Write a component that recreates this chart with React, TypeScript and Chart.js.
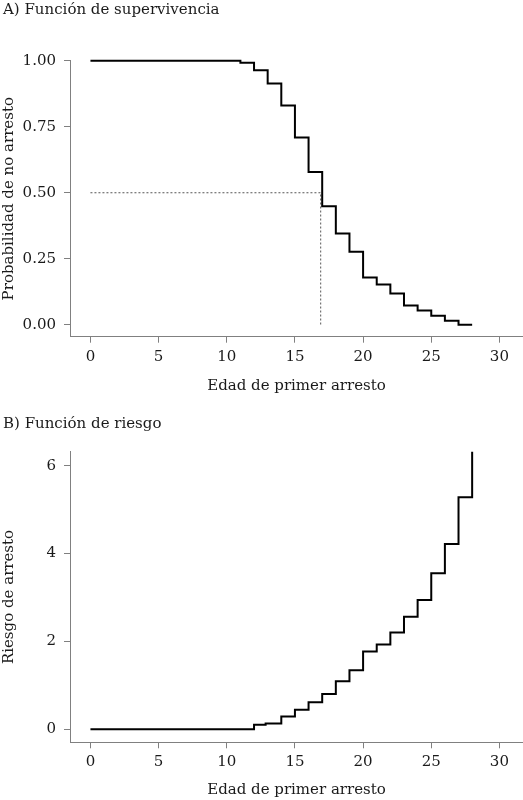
import React, { useEffect, useRef } from "react";
import { Chart, registerables } from "chart.js";

Chart.register(...registerables);

// ---------- data ----------
const AGES_SURV = [0, 11, 12, 13, 14, 15, 16, 17, 18, 19, 20, 21, 22, 23, 24, 25, 26, 27, 28];
const SURVIVAL = [1.0, 0.992, 0.964, 0.914, 0.83, 0.709, 0.579, 0.449, 0.346, 0.277, 0.179, 0.153, 0.119, 0.073, 0.054, 0.034, 0.015, 0.0, 0.0];
const MEDIAN_AGE = 16.89;
const MEDIAN_PROB = 0.5;

const AGES_HAZ = [0, 12, 12.85, 14, 15, 16, 17, 18, 19, 20, 21, 22, 23, 24, 25, 26, 27, 28];
const HAZARD = [0, 0.1, 0.13, 0.29, 0.44, 0.61, 0.8, 1.09, 1.34, 1.77, 1.93, 2.2, 2.56, 2.94, 3.55, 4.22, 5.28, 6.32];

const X_TICKS = [0, 5, 10, 15, 20, 25, 30];
const Y_TICKS_SURV = [0, 0.25, 0.5, 0.75, 1.0];
const Y_TICKS_HAZ = [0, 2, 4, 6];

const TITLE_A = "A) Función de supervivencia";
const TITLE_B = "B) Función de riesgo";
const X_TITLE = "Edad de primer arresto";
const Y_TITLE_SURV = "Probabilidad de no arresto";
const Y_TITLE_HAZ = "Riesgo de arresto";

// ---------- styles ----------
const FONT = "'DejaVu Serif', serif";
const TEXT = "#1a1a1a";
const AXIS = "#808080";
const W = 523;
const H = 400;

type PanelCfg = {
  xs: number[];
  ys: number[];
  yMin: number;
  yMax: number;
  yTicks: number[];
  yFmt: (v: number) => string;
  yTitle: string;
  padTop: number;
  xHeight: number;
  xTitleBottom: number;
  median?: boolean;
};

function buildConfig(cfg: PanelCfg): any {
  const datasets: any[] = [
    {
      data: cfg.xs.map((x, i) => ({ x, y: cfg.ys[i] })),
      borderColor: "#000000",
      borderWidth: 2,
      stepped: "before",
      pointRadius: 0,
      fill: false,
      clip: false,
      borderCapStyle: "butt",
      borderJoinStyle: "miter",
    },
  ];
  if (cfg.median) {
    datasets.push({
      data: [
        { x: 0, y: MEDIAN_PROB },
        { x: MEDIAN_AGE, y: MEDIAN_PROB },
        { x: MEDIAN_AGE, y: 0 },
      ],
      borderColor: "#555555",
      borderWidth: 1,
      borderDash: [2, 2],
      pointRadius: 0,
      fill: false,
      tension: 0,
    });
  }
  return {
    type: "line",
    data: { datasets },
    options: {
      responsive: false,
      animation: false,
      events: [],
      layout: { padding: { top: cfg.padTop, left: 0, right: 0, bottom: 0 } },
      plugins: {
        legend: { display: false },
        tooltip: { enabled: false },
        title: { display: false },
      },
      scales: {
        x: {
          type: "linear",
          min: -1.5,
          max: 31.73,
          afterBuildTicks: (s: any) => {
            s.ticks = X_TICKS.map((v) => ({ value: v }));
          },
          afterFit: (s: any) => {
            s.height = cfg.xHeight;
          },
          ticks: {
            color: TEXT,
            font: { family: FONT, size: 15 },
            padding: 5,
            maxRotation: 0,
            autoSkip: false,
            callback: (v: any) => String(v),
          },
          grid: {
            drawOnChartArea: false,
            drawTicks: true,
            tickLength: 6,
            color: AXIS,
            tickColor: AXIS,
          },
          border: { display: true, color: AXIS, width: 1 },
          title: {
            display: true,
            text: X_TITLE,
            color: TEXT,
            font: { family: FONT, size: 15 },
            padding: { top: 0, bottom: cfg.xTitleBottom },
          },
        },
        y: {
          type: "linear",
          min: cfg.yMin,
          max: cfg.yMax,
          afterBuildTicks: (s: any) => {
            s.ticks = cfg.yTicks.map((v) => ({ value: v }));
          },
          afterFit: (s: any) => {
            s.width = 70;
          },
          ticks: {
            color: TEXT,
            font: { family: FONT, size: 15 },
            padding: 8,
            autoSkip: false,
            callback: (v: any) => cfg.yFmt(Number(v)),
          },
          grid: {
            drawOnChartArea: false,
            drawTicks: true,
            tickLength: 6,
            color: AXIS,
            tickColor: AXIS,
          },
          border: { display: true, color: AXIS, width: 1 },
          title: {
            display: true,
            text: cfg.yTitle,
            color: TEXT,
            font: { family: FONT, size: 15 },
            padding: { top: 0, bottom: 0 },
          },
        },
      },
    },
  };
}

function Panel({ cfg, top, title, titleTop }: { cfg: PanelCfg; top: number; title: string; titleTop: number }) {
  const ref = useRef<HTMLCanvasElement | null>(null);
  useEffect(() => {
    if (!ref.current) return;
    const chart = new Chart(ref.current, buildConfig(cfg));
    return () => chart.destroy();
  }, []);
  return (
    <>
      <canvas
        ref={ref}
        width={W}
        height={H}
        style={{ position: "absolute", left: 0, top, width: W, height: H, display: "block" }}
      />
      <div
        style={{
          position: "absolute",
          left: 3,
          top: top + titleTop,
          font: `15px ${FONT}`,
          lineHeight: "18px",
          color: TEXT,
          whiteSpace: "nowrap",
        }}
      >
        {title}
      </div>
    </>
  );
}

const SURV_CFG: PanelCfg = {
  xs: AGES_SURV,
  ys: SURVIVAL,
  yMin: -0.045,
  yMax: 1.0,
  yTicks: Y_TICKS_SURV,
  yFmt: (v) => v.toFixed(2),
  yTitle: Y_TITLE_SURV,
  padTop: 60.7,
  xHeight: 63.3,
  xTitleBottom: 5,
  median: true,
};

const HAZ_CFG: PanelCfg = {
  xs: AGES_HAZ,
  ys: HAZARD,
  yMin: -0.3,
  yMax: 6.32,
  yTicks: Y_TICKS_HAZ,
  yFmt: (v) => String(Math.round(v)),
  yTitle: Y_TITLE_HAZ,
  padTop: 51.7,
  xHeight: 57.7,
  xTitleBottom: 1,
};

export default function App() {
  return (
    <div style={{ position: "absolute", left: 0, top: 0, width: W, height: 800, background: "#ffffff", overflow: "hidden" }}>
      <Panel cfg={SURV_CFG} top={0} title={TITLE_A} titleTop={0} />
      <Panel cfg={HAZ_CFG} top={400} title={TITLE_B} titleTop={14} />
    </div>
  );
}
